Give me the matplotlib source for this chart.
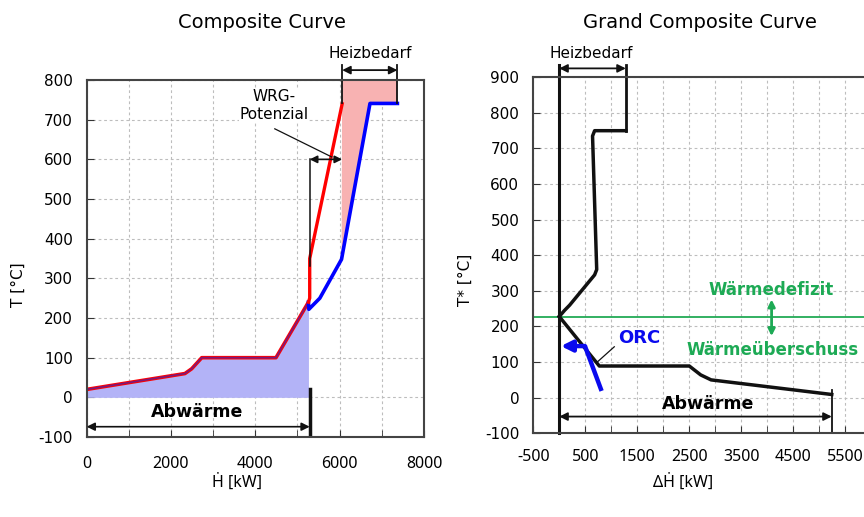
import numpy as np
import matplotlib
matplotlib.use("Agg")
import matplotlib.pyplot as plt
from matplotlib.ticker import MultipleLocator, FixedLocator

plt.rcParams['axes.unicode_minus'] = False

# --- Composite Curve data ---
# shared lower part (Abwaerme)
low_H = [0, 2330, 2490, 2730, 4490, 5260]
low_T = [20, 60, 72, 100, 100, 240]
# hot composite upper part (red)
red_H = [5260, 5290, 5290, 6060]
red_T = [240, 250, 350, 740]
# cold composite upper part (blue)
blue_H = [5260, 5270, 5530, 6045, 6720, 7370]
blue_T = [240, 222, 250, 348, 741, 741]
heiz_left = [6060, 7370]
wrg_H = [5290, 6060]
wrg_T = 600

# --- Grand Composite Curve data ---
gcc_up_H = [0, 100, 200, 680, 720, 640, 680, 1280]
gcc_up_T = [228, 245, 260, 345, 360, 735, 750, 750]
gcc_lo_H = [0, 770, 2500, 2720, 2920, 5240]
gcc_lo_T = [228, 89, 89, 64, 50, 9]
pinch_T = 228
orc_H = [814, 494]
orc_T = [19, 145]
orc_end = 32

fig = plt.figure(figsize=(8.64, 5.17), dpi=100)
ax1 = fig.add_axes([0.1003, 0.1547, 0.3904, 0.6905])
ax2 = fig.add_axes([0.6172, 0.1619, 0.3828, 0.6886])

grid_kw = dict(color='#bdbdbd', linestyle=(0, (2.5, 2.5)), linewidth=0.8)
black = '#111111'


def style(ax):
    ax.grid(True, which='both', **grid_kw)
    ax.set_axisbelow(True)
    ax.tick_params(which='both', direction='in', length=5, color='#333333')
    for s in ax.spines.values():
        s.set_color('#444444')
        s.set_linewidth(1.5)
    for lab in ax.get_yticklabels():
        lab.set_fontsize(11)
        lab.set_family('DejaVu Sans')
    for lab in ax.get_xticklabels():
        lab.set_fontsize(11.5)
        lab.set_family('Noto Sans')


# ---------------- left: Composite Curve ----------------
ax1.set_xlim(0, 8000)
ax1.set_ylim(-100, 800)
ax1.xaxis.set_major_locator(MultipleLocator(2000))
ax1.xaxis.set_minor_locator(MultipleLocator(1000))
ax1.yaxis.set_major_locator(MultipleLocator(100))
ax1.tick_params(axis='x', pad=14)
ax1.tick_params(axis='y', pad=10)

ax1.fill_between(low_H, low_T, 0, color='#b3b3f7', lw=0)
pink_H = [blue_H[3], blue_H[4], blue_H[5], blue_H[5], heiz_left[0]]
pink_T = [blue_T[3], blue_T[4], blue_T[5], 800, 800]
ax1.fill(pink_H, pink_T, color='#f8b2b2', lw=0)
ax1.fill([red_H[1], red_H[2] + 15, red_H[2] + 15, red_H[1]],
         [red_T[1], red_T[1], red_T[2], red_T[2]], color='#f8b2b2', lw=0)

ax1.plot(low_H, low_T, color='red', lw=2.6, solid_capstyle='round')
ax1.plot(low_H, low_T, color='#5a1f9a', lw=1.2, alpha=0.8)
ax1.plot(blue_H, blue_T, color='blue', lw=2.6)
ax1.plot(red_H, red_T, color='red', lw=2.4)

# Heizbedarf marker
for h in heiz_left:
    ax1.plot([h, h], [741, 838], color=black, lw=1.3, clip_on=False)
ax1.annotate('', xy=(heiz_left[1], 825), xytext=(heiz_left[0], 825),
             arrowprops=dict(arrowstyle='<|-|>', color=black, lw=1.3,
                             mutation_scale=12, shrinkA=0, shrinkB=0),
             annotation_clip=False)
ax1.text(6713, 868, 'Heizbedarf', ha='center', va='center', fontsize=11,
         clip_on=False)

# WRG-Potenzial
ax1.plot([wrg_H[0], wrg_H[0]], [wrg_T, 330], color=black, lw=1.1)
ax1.annotate('', xy=(wrg_H[1], wrg_T), xytext=(wrg_H[0], wrg_T),
             arrowprops=dict(arrowstyle='<|-|>', color=black, lw=1.2,
                             mutation_scale=11, shrinkA=0, shrinkB=0))
ax1.plot([4462, 5813], [677, 606], color=black, lw=0.9)
ax1.text(4440, 737, 'WRG-\nPotenzial', ha='center', va='center',
         fontsize=11, linespacing=1.25,
         bbox=dict(facecolor='white', edgecolor='none', pad=0.5))

# Abwaerme
ax1.plot([wrg_H[0], wrg_H[0]], [20, -97], color=black, lw=2.5)
ax1.annotate('', xy=(wrg_H[0], -74), xytext=(0, -74),
             arrowprops=dict(arrowstyle='<|-|>', color=black, lw=1.2,
                             mutation_scale=12, shrinkA=0, shrinkB=0))
ax1.text(2614, -36, 'Abwärme', ha='center', va='center', fontsize=12.5,
         fontweight='bold')

# ---------------- right: Grand Composite Curve ----------------
ax2.set_xlim(-500, 5860)
ax2.set_ylim(-100, 900)
ax2.xaxis.set_major_locator(FixedLocator(np.arange(-500, 5600, 1000)))
ax2.xaxis.set_minor_locator(FixedLocator(np.arange(0, 5100, 1000)))
ax2.yaxis.set_major_locator(MultipleLocator(100))
ax2.tick_params(axis='x', pad=11)
ax2.tick_params(axis='y', pad=10)
ax2.spines['right'].set_visible(False)

ax2.axhline(pinch_T, color='#22aa55', lw=1.3)
ax2.plot([0, 0], [-100, 935], color=black, lw=2.2, clip_on=False)
ax2.plot(gcc_up_H, gcc_up_T, color=black, lw=2.5, solid_joinstyle='round')
ax2.plot(gcc_lo_H, gcc_lo_T, color=black, lw=2.5, solid_joinstyle='round')

# Heizbedarf
ax2.plot([gcc_up_H[-1], gcc_up_H[-1]], [gcc_up_T[-1], 935], color=black,
         lw=2, clip_on=False)
ax2.annotate('', xy=(gcc_up_H[-1], 925), xytext=(0, 925),
             arrowprops=dict(arrowstyle='<|-|>', color=black, lw=1.3,
                             mutation_scale=12, shrinkA=0, shrinkB=0),
             annotation_clip=False)
ax2.text(610, 968, 'Heizbedarf', ha='center', va='center', fontsize=11,
         clip_on=False)

# Abwaerme
ax2.plot([gcc_lo_H[-1], gcc_lo_H[-1]], [23, -100], color=black, lw=1.3)
ax2.annotate('', xy=(gcc_lo_H[-1], -53), xytext=(0, -53),
             arrowprops=dict(arrowstyle='<|-|>', color=black, lw=1.3,
                             mutation_scale=12, shrinkA=0, shrinkB=0))
ax2.text(2860, -19, 'Abwärme', ha='center', va='center', fontsize=12.5,
         fontweight='bold')

# ORC
ax2.plot(orc_H, orc_T, color='#0a0aee', lw=3.2, solid_capstyle='butt')
ax2.annotate('', xy=(orc_end, orc_T[1]), xytext=(orc_H[1], orc_T[1]),
             arrowprops=dict(arrowstyle='-|>', color='#0a0aee', lw=3.2,
                             mutation_scale=16, shrinkA=0, shrinkB=0))
ax2.plot([1058, 737], [143, 101], color=black, lw=0.9)
ax2.text(1538, 168, 'ORC', ha='center', va='center', fontsize=13,
         fontweight='bold', color='#0a0aee')

# Waermedefizit / -ueberschuss
green = '#1daa55'
ax2.text(4071, 302, 'Wärmedefizit', ha='center', va='center', fontsize=12,
         fontweight='bold', color=green)
ax2.text(4103, 134, 'Wärmeüberschuss', ha='center', va='center', fontsize=12,
         fontweight='bold', color=green)
ax2.annotate('', xy=(4083, 173), xytext=(4083, 276),
             arrowprops=dict(arrowstyle='<|-|>', color=green, lw=2,
                             mutation_scale=10, shrinkA=0, shrinkB=0))

style(ax1)
style(ax2)

# titles and axis labels
fig.text(262 / 864, 1 - 22 / 517, 'Composite Curve', ha='center', va='center',
         fontsize=14)
fig.text(700 / 864, 1 - 22 / 517, 'Grand Composite Curve', ha='center',
         va='center', fontsize=14)
fig.text(18 / 864, 1 - 285 / 517, 'T [°C]', rotation=90, ha='center',
         va='center', fontsize=11)
fig.text(465 / 864, 1 - 280 / 517, 'T* [°C]', rotation=90, ha='center',
         va='center', fontsize=11)
fig.text(237 / 864, 1 - 482 / 517, 'Ḣ [kW]', ha='center', va='center',
         fontsize=11.5, family='Noto Sans')
fig.text(683 / 864, 1 - 482 / 517, 'ΔḢ [kW]', ha='center', va='center',
         fontsize=11.5, family='Noto Sans')

fig.savefig('out.png', dpi=100)
